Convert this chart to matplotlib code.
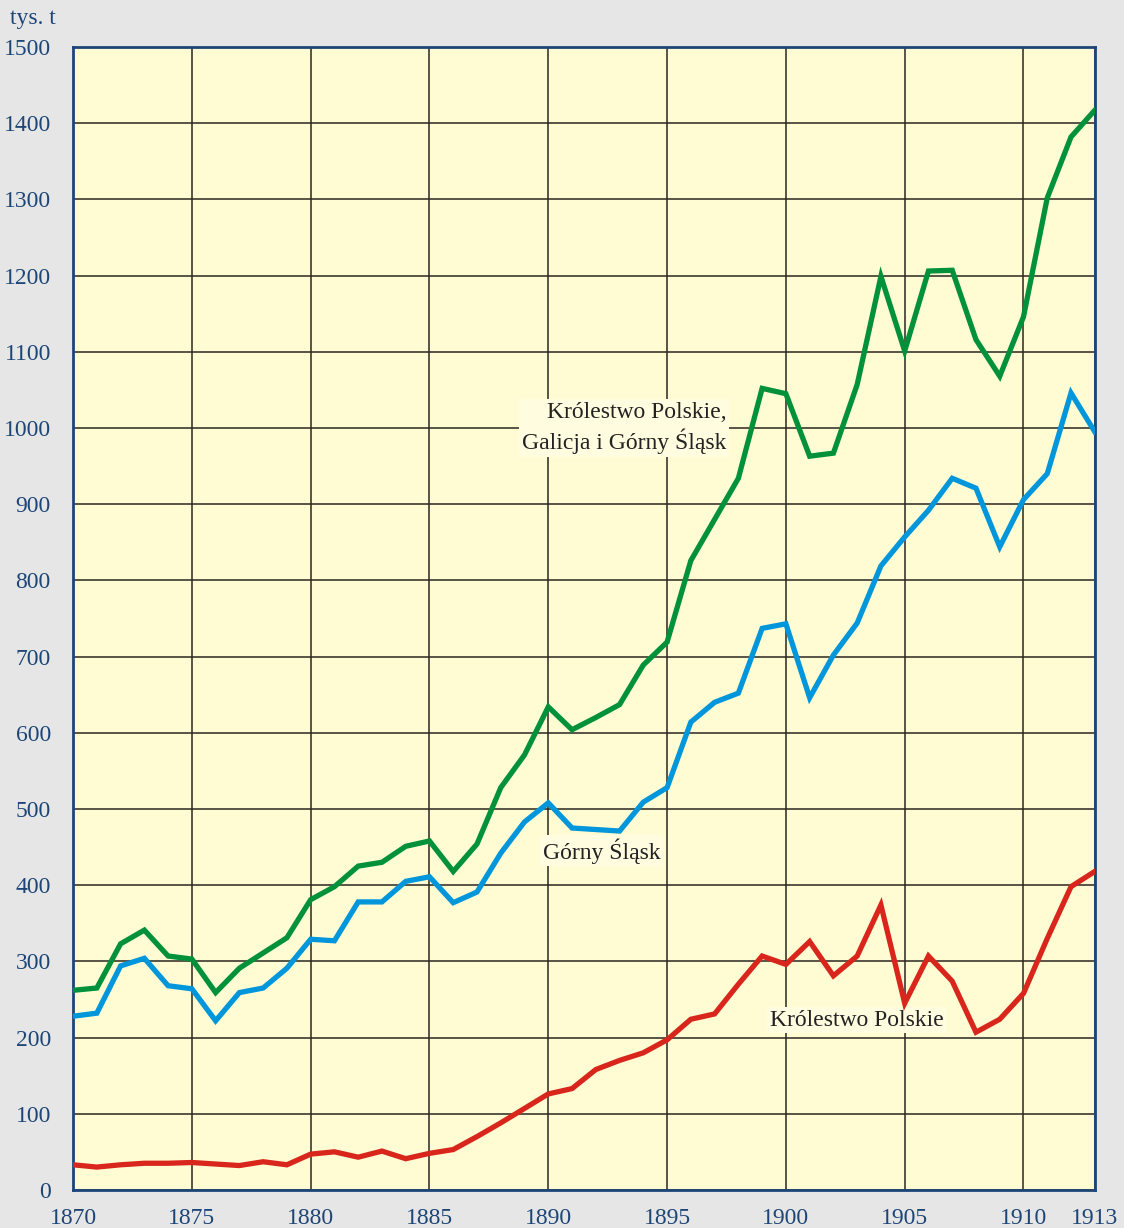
import numpy as np
import matplotlib.pyplot as plt

# Data (thousand tonnes, by year)
years = list(range(1870, 1914))

# Królestwo Polskie, Galicja i Górny Śląsk (total)
total = [262, 265, 323, 341, 307, 303, 259, 291, 311, 331,
         381, 398, 425, 430, 451, 458, 418, 454, 528, 571,
         634, 604, 620, 637, 689, 719, 826, 880, 934, 1052,
         1045, 963, 967, 1057, 1199, 1101, 1206, 1207, 1116, 1068,
         1146, 1302, 1382, 1417]

# Górny Śląsk
silesia = [228, 232, 294, 304, 268, 264, 222, 259, 265, 291,
           329, 327, 378, 378, 405, 411, 377, 391, 442, 483,
           508, 475, 473, 471, 509, 528, 614, 640, 652, 737,
           743, 646, 702, 744, 819, 857, 892, 934, 921, 844,
           906, 940, 1046, 995]

# Królestwo Polskie
kingdom = [33, 30, 33, 35, 35, 36, 34, 32, 37, 33,
           47, 50, 43, 51, 41, 48, 53, 70, 88, 107,
           126, 133, 158, 170, 180, 197, 224, 231, 270, 307,
           296, 326, 281, 307, 374, 245, 307, 274, 207, 224,
           258, 330, 398, 418]

xticks = [1870, 1875, 1880, 1885, 1890, 1895, 1900, 1905, 1910, 1913]
yticks = list(range(0, 1600, 100))

navy = '#1d4677'
serif = ['Liberation Serif', 'DejaVu Serif']

fig = plt.figure(figsize=(11.24, 12.28), dpi=100, facecolor='#e6e6e6')
ax = fig.add_axes([0.065, 0.031, 0.909, 0.9307])
ax.set_facecolor('#fffcd3')

ax.plot(years, total, color='#00913a', lw=3.8, zorder=3, solid_joinstyle='miter')
ax.plot(years, silesia, color='#0096dc', lw=3.8, zorder=3, solid_joinstyle='miter')
ax.plot(years, kingdom, color='#d9261c', lw=3.8, zorder=3, solid_joinstyle='miter')

ax.set_xlim(1870, 1913)
ax.set_ylim(0, 1500)
ax.set_xticks(xticks)
ax.set_yticks(yticks)
ax.grid(True, color='#2b2620', lw=1.1, zorder=1)
ax.set_axisbelow(True)
ax.tick_params(length=0, colors=navy, labelsize=17)
ax.tick_params(axis='y', pad=16)
ax.tick_params(axis='x', pad=13)
for lab in ax.get_xticklabels() + ax.get_yticklabels():
    lab.set_family(serif)
for s in ax.spines.values():
    s.set_color(navy)
    s.set_linewidth(2)

fig.text(0.009, 0.985, 'tys. t', color=navy, fontsize=17, family=serif,
         ha='left', va='center')

box = dict(facecolor='#fffcdf', edgecolor='none', pad=2)
ax.text(1897.5, 1000, 'Królestwo Polskie,\nGalicja i Górny Śląsk', ha='right',
        va='center', ma='right', fontsize=17, family=serif, color='#222222',
        linespacing=1.3, bbox=box, zorder=2)
ax.text(1892.25, 445, 'Górny Śląsk', ha='center', va='center', fontsize=17,
        family=serif, color='#222222', bbox=box, zorder=2)
ax.text(1903.0, 223, 'Królestwo Polskie', ha='center', va='center', fontsize=17,
        family=serif, color='#222222', bbox=box, zorder=2)

plt.savefig('out.png', dpi=100, facecolor=fig.get_facecolor())
